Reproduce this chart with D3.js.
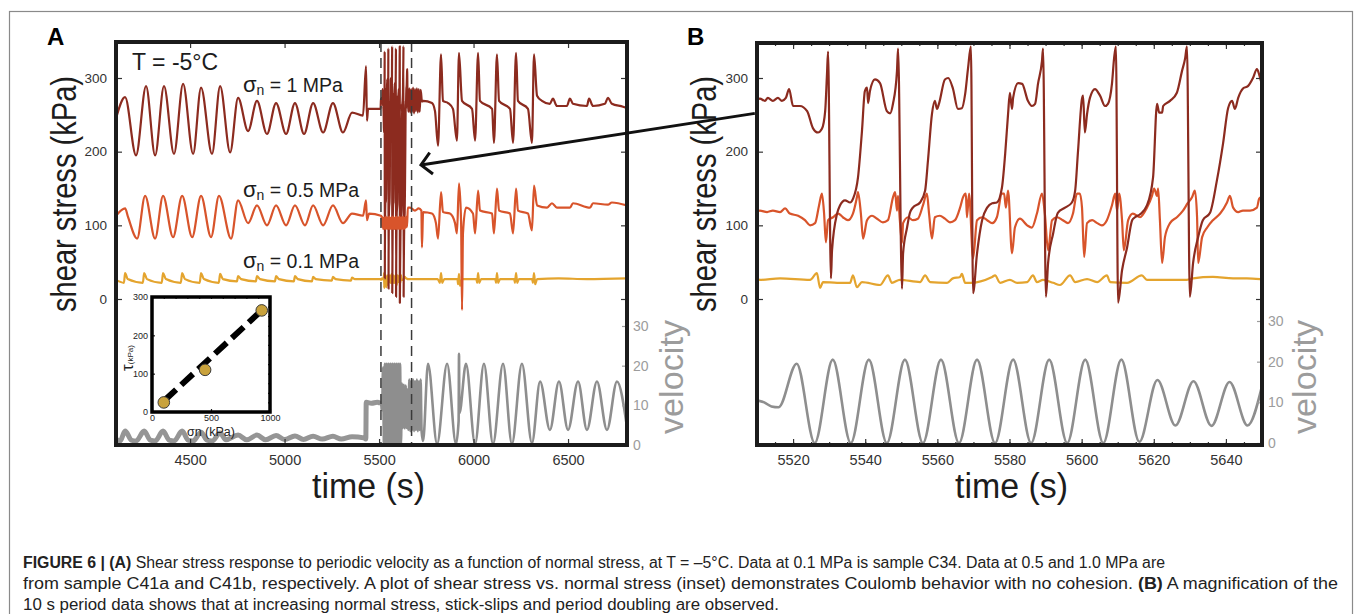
<!DOCTYPE html>
<html>
<head>
<meta charset="utf-8">
<script src="https://cdn.jsdelivr.net/npm/d3@7"></script>
<style>
  body { margin: 0; background: #fff; }
  svg { display: block; font-family: "Liberation Sans", Arial, Helvetica, sans-serif; }
</style>
</head>
<body>
<svg id="fig" width="1357" height="614"></svg>
<script>

// ticks
var timeTicksA =     [4500, 5000, 5500, 6000, 6500]
var timeTicksB =     [5520, 5540, 5560, 5580, 5600, 5620, 5640]
var stressTicks =    [0, 100, 200, 300]
var velocityTicks =  [0, 10, 20, 30]
var insetNormalTicks = [0, 500, 1000]
var insetShearTicks =  [0, 100, 200, 300]
var zoomWindow =     [5510, 5672]   // dashed lines in A, window shown in B

// inset: shear stress vs normal stress (kPa)
var insetNormal = [100, 450, 930]
var insetShear =  [25, 110, 265]
var insetFit =    [[105, 30], [905, 258]]

// ---- panel A, [time s, shear stress kPa] ----
var a1MPaPre = [[4108,245],[4156,274],[4214,195],[4267,289],[4315,195],[4362,289],[4415,197],[4463,292],
  [4516,197],[4558,287],[4616,197],[4659,289],[4712,199],[4754,273],[4807,228],[4854,269],[4907,224],
  [4955,266],[5008,224],[5055,266],[5103,224],[5151,266],[5204,226],[5256,266],[5309,226],[5357,253],
  [5415,249],[5431,316],[5436,242],[5442,258],[5508,258]]
var a1MPaPost = [[5650,285],[5655,254],[5660,286],[5665,253],[5670,285],[5675,254],[5680,287],[5685,252],
  [5690,285],[5695,255],[5700,286],[5705,253],[5710,285],[5715,254],[5720,284],[5727,268],[5733,269],
  [5780,266],[5796,255],[5812,208],[5828,332],[5838,269],[5865,266],[5891,258],[5912,215],[5923,334],
  [5939,269],[5992,258],[6008,215],[6024,334],[6034,269],[6098,258],[6108,212],[6124,332],[6135,269],
  [6193,258],[6209,212],[6225,334],[6235,269],[6288,258],[6309,212],[6320,332],[6336,276],[6362,269],
  [6404,265],[6420,272],[6441,262],[6494,262],[6510,272],[6526,265],[6600,262],[6611,272],[6632,262],
  [6695,265],[6711,273],[6732,265],[6791,261],[6812,259]]

var aHalfPre = [[4108,113],[4156,123],[4172,111],[4220,82],[4262,140],[4315,82],[4357,140],[4410,84],
  [4458,140],[4511,84],[4558,140],[4611,84],[4653,140],[4717,82],[4754,134],[4807,103],[4854,127],
  [4907,100],[4955,127],[5008,100],[5055,127],[5108,100],[5151,127],[5204,100],[5256,127],[5309,103],
  [5357,116],[5415,113],[5431,134],[5436,107],[5447,116],[5510,113]]
var aHalfBlock = [[5513,112],[5516,98],[5519,111],[5522,95],[5525,110],[5528,96],[5531,111],[5534,95],
  [5537,112],[5540,96],[5543,110],[5546,95],[5549,111],[5552,96],[5555,112],[5558,95],[5561,110],
  [5564,96],[5567,111],[5570,95],[5573,112],[5576,96],[5579,110],[5582,95],[5585,111],[5588,96],
  [5591,112],[5594,95],[5597,110],[5600,96],[5603,111],[5606,95],[5609,112],[5612,96],[5615,110],
  [5618,95],[5621,111],[5624,96],[5627,112],[5630,95],[5633,110],[5636,96],[5639,111],[5642,97],
  [5645,112],[5648,98]]
var aHalfPost = [[5652,124],[5664,124],[5690,120],[5710,123],[5724,120],[5727,70],[5733,118],[5780,116],
  [5801,103],[5812,82],[5828,145],[5838,118],[5875,116],[5902,103],[5912,89],[5923,157],[5934,106],
  [5939,-15],[5944,89],[5960,124],[5997,116],[6008,89],[6024,147],[6034,120],[6098,116],[6108,89],
  [6124,150],[6135,120],[6193,116],[6209,89],[6225,150],[6235,120],[6288,116],[6309,93],[6320,154],
  [6336,127],[6389,124],[6415,130],[6441,124],[6510,124],[6526,130],[6616,124],[6632,130],[6711,128],
  [6732,131],[6812,127]]

var aTenthPre = [[4108,26],[4150,22],[4156,35],[4170,27],[4250,22],[4257,35],[4272,27],[4350,22],[4357,35],
  [4372,27],[4451,22],[4458,35],[4473,27],[4551,22],[4558,35],[4573,27],[4652,22],[4659,34],[4674,27],
  [4748,24],[4754,31],[4770,27],[4848,24],[4854,31],[4870,27],[4949,24],[4955,31],[4970,27],[5049,24],
  [5055,31],[5070,27],[5145,24],[5151,30],[5165,27],[5250,25],[5256,30],[5270,27],[5351,25],[5357,29],
  [5372,27],[5450,27],[5508,27]]
var aTenthPost = [[5650,27],[5700,27],[5810,27],[5822,22],[5828,35],[5834,22],[5845,27],[5915,27],
  [5918,20],[5923,34],[5928,18],[5940,27],[6015,27],[6019,22],[6024,35],[6030,22],[6040,27],[6115,27],
  [6119,22],[6124,35],[6130,22],[6140,27],[6215,27],[6219,22],[6225,35],[6231,22],[6240,27],[6310,27],
  [6314,22],[6320,35],[6326,20],[6336,27],[6450,28],[6600,27],[6812,28]]

// velocity, [time s, velocity]
var aVelPre = [[4108,1.5],[4130,1],[4156,3.5],[4190,1.2],[4214,1],[4257,3.5],[4290,1.2],[4315,1],[4357,3.5],
  [4390,1.2],[4415,1],[4458,3.5],[4490,1.2],[4516,1],[4558,3.2],[4590,1.2],[4616,1],[4659,3],[4690,1.3],
  [4754,2.5],[4800,1.3],[4854,2.5],[4900,1.3],[4955,2.4],[5000,1.4],[5055,2.3],[5100,1.4],[5151,2.2],
  [5200,1.5],[5256,2.2],[5300,1.5],[5357,2.1],[5420,1.8],[5430,1.5],[5432,10.8],[5460,10.5],[5490,10.8],
  [5508,10.5]]
var aVelPost = [[5655,3.8],[5660,16.5],[5665,3.5],[5670,16],[5675,3.8],[5680,16.5],[5685,3.5],[5690,16],
  [5695,3.8],[5700,16.5],[5705,3.5],[5710,16],[5715,3.8],[5720,16.5],[5725,3.5],[5733,1],[5759,20.5],
  [5807,0.3],[5860,20.5],[5907,0.3],[5921,6],[5923,23],[5925,8],[5960,20.5],[6008,0.3],[6055,20.5],
  [6103,0.3],[6156,20.5],[6203,0.3],[6256,20.5],[6309,0.5],[6352,16],[6404,3.8],[6452,16],[6500,3.8],
  [6553,16],[6600,3.8],[6653,16],[6706,3.8],[6759,16],[6812,4.5]]

// ---- panel B (5510-5650 s) ----
var b1MPa = [[5510,270],[5510.8,272],[5512.2,269],[5513,273],[5514.4,269],[5515.8,273],[5516.9,269],[5518,273],
  [5518.9,285],[5520,262],[5521.9,262],[5523.9,255],[5525.5,232],[5526.9,226],[5528,231],[5528.9,255],
  [5529.4,305],[5529.7,336],[5530.5,28],[5530.8,66],[5532.2,116],[5533,127],[5534.4,134],[5535.8,131],
  [5536.6,136],[5538,165],[5539.1,228],[5539.9,282],[5540.5,287],[5540.8,266],[5541.3,282],[5542.7,298],
  [5544.1,293],[5546,255],[5546.9,252],[5547.7,265],[5548.8,309],[5549.1,340],[5550.2,14],[5550.5,62],
  [5551.6,97],[5552.4,117],[5553.2,124],[5555.2,131],[5556.6,147],[5557.4,188],[5558.5,251],[5559.3,269],
  [5559.9,258],[5560.5,266],[5562.1,298],[5563,300],[5564.3,286],[5565.7,258],[5566.8,259],[5567.7,278],
  [5568.5,313],[5569.3,343],[5569.9,8],[5571,62],[5572.4,107],[5573.8,124],[5575.2,130],[5576.5,131],
  [5577.9,151],[5578.8,197],[5579.6,251],[5580.1,280],[5580.7,258],[5581,273],[5582.4,293],[5583.5,292],
  [5585.1,269],[5586.2,262],[5587.1,265],[5587.9,292],[5589,323],[5589.3,340],[5590.1,3],[5590.7,49],
  [5592.1,89],[5593.4,117],[5595.4,124],[5597.3,131],[5598.2,147],[5599,201],[5600.1,272],[5600.4,276],
  [5600.9,226],[5601.5,251],[5602.3,273],[5603.7,285],[5605.1,276],[5606.5,262],[5607.3,265],[5608.4,292],
  [5609,327],[5609.5,343],[5610.1,-5],[5611.2,39],[5612.6,70],[5614,107],[5614.8,111],[5616.2,115],
  [5618.1,127],[5619.8,165],[5620.9,265],[5621.5,253],[5622.3,253],[5622.6,262],[5624.5,269],[5626.4,280],
  [5627.8,309],[5628.7,327],[5629.2,343],[5630,3],[5630.9,49],[5632.3,84],[5633.6,107],[5635.6,117],
  [5637.5,161],[5639.2,211],[5640.6,259],[5641.7,269],[5642.5,258],[5643.4,273],[5644.8,286],[5646.1,289],
  [5647.5,300],[5648.6,312],[5649.2,305],[5649.7,296]]

var bHalf = [[5510,119],[5510.8,120],[5512.8,118],[5514.4,120],[5516.4,118],[5517.8,123],[5519.1,116],
  [5521.4,113],[5523.3,107],[5524.7,100],[5526.1,103],[5527.2,127],[5528,143],[5528.6,116],[5529.1,77],
  [5529.7,107],[5531.1,111],[5532.5,116],[5533.8,111],[5535.2,107],[5536.6,116],[5537.7,138],[5538,145],
  [5538.8,116],[5539.4,82],[5540.5,107],[5541.9,113],[5543.3,109],[5544.9,104],[5546.3,107],[5547.7,138],
  [5548.3,145],[5548.8,120],[5549.1,140],[5549.6,107],[5550.2,76],[5550.5,103],[5551.9,111],[5553.2,107],
  [5554.6,109],[5556,127],[5557.1,143],[5557.7,116],[5558.5,82],[5559.3,111],[5560.7,113],[5562.1,109],
  [5563.5,104],[5564.9,107],[5566.3,124],[5567.1,138],[5567.9,143],[5568.2,111],[5568.8,143],[5569.9,55],
  [5571,107],[5572.4,111],[5573.8,107],[5575.2,103],[5576.5,111],[5577.9,143],[5578.5,143],[5579,124],
  [5579.6,147],[5580.7,62],[5581.5,97],[5582.9,109],[5584.9,100],[5586.2,97],[5587.6,116],[5589,143],
  [5589.8,116],[5590.7,66],[5591.8,107],[5593.2,111],[5594.8,107],[5596.2,103],[5597.6,116],[5598.7,143],
  [5599.5,143],[5600.1,124],[5600.7,57],[5601.5,103],[5602.9,107],[5604.3,103],[5605.6,100],[5607,107],
  [5608.4,127],[5609.3,143],[5609.8,120],[5610.4,143],[5611.2,107],[5611.7,66],[5612.9,107],[5614.2,116],
  [5616.2,111],[5618.1,124],[5619.5,140],[5620.1,150],[5620.9,140],[5621.2,150],[5621.7,107],[5622.3,49],
  [5623.1,84],[5624.5,103],[5626.4,111],[5628.1,120],[5629.4,130],[5630.6,138],[5631.4,147],[5632,111],
  [5632.3,49],[5633.4,84],[5634.8,97],[5636.4,107],[5638.4,116],[5640.3,131],[5641.1,140],[5642,124],
  [5643.4,118],[5644.7,120],[5646.7,120],[5648.6,124],[5649.2,136],[5649.7,138]]

var bTenth = [[5510,27],[5510.8,26],[5516.4,28],[5524.7,26],[5526.6,35],[5527.5,15],[5528.3,23],[5532.2,22],
  [5535.8,22],[5536.6,32],[5537.7,16],[5539.1,23],[5544.1,19],[5546.3,32],[5547.4,22],[5549.6,26],
  [5555.2,23],[5556.6,32],[5558,23],[5562.7,22],[5564.3,28],[5566.3,30],[5566.8,34],[5567.7,22],
  [5569.1,22],[5575.2,30],[5576,32],[5577.4,22],[5580.1,26],[5582.1,22],[5584.9,23],[5586.5,32],
  [5587.6,23],[5589.3,26],[5592.1,22],[5594,19],[5596.8,32],[5598.2,23],[5601.5,27],[5604.3,23],
  [5607,32],[5607.9,23],[5612.6,22],[5616.7,32],[5618.1,26],[5623.7,26],[5629.2,26],[5630.9,28],
  [5636.4,30],[5642,28],[5645.8,28],[5649.5,27]]

var bVel = [[5510,10.5],[5512,10],[5514,9],[5516,8.8],[5521,19.5],[5526,0],[5531,20.5],[5536,0],[5541,20.5],
  [5546,0],[5551,20.5],[5556,0],[5561,20.5],[5566,0],[5571,20.5],[5576,0],[5581,20.5],[5586,0],[5591,20.5],
  [5596,0],[5601,20.5],[5606,0],[5611,20.5],[5616,0.3],[5621,15.5],[5626,4.3],[5631,15.2],[5636,4.2],
  [5641,15],[5646,4.3],[5650,14]]

// panel A shows the B window inside its dense block
var a1MPa =   a1MPaPre.concat(b1MPa, a1MPaPost)
var aHalf =   aHalfPre.concat(aHalfBlock, aHalfPost)
var aTenth =  aTenthPre.concat(bTenth, aTenthPost)
var aVelRest = bVel.concat(aVelPost)

var normalLabels = [
  { main: '1 MPa',   t: 4780, s: 281 },
  { main: '0.5 MPa', t: 4780, s: 138 },
  { main: '0.1 MPa', t: 4780, s: 42 }
]

var captionLines = [
  [['FIGURE 6 | (A)', true], [' Shear stress response to periodic velocity as a function of normal stress, at T = \u20135\u00b0C. Data at 0.1 MPa is sample C34. Data at 0.5 and 1.0 MPa are', false]],
  [['from sample C41a and C41b, respectively. A plot of shear stress vs. normal stress (inset) demonstrates Coulomb behavior with no cohesion. ', false], ['(B)', true], [' A magnification of the', false]],
  [['10 s period data shows that at increasing normal stress, stick-slips and period doubling are observed.', false]]
]

var colorHigh =    '#8c2b1f'
var colorMid =     '#d8542b'
var colorLow =     '#e4a42e'
var colorVel =     '#8e8e8e'
var colorVelText = '#9c9c9c'
var colorInk =     '#1c1c1c'

var svg = d3.select('#fig')

var xA = d3.scaleLinear().domain([4108, 6812]).range([116, 627])
var xB = d3.scaleLinear().domain([5510, 5650]).range([757, 1262])
var yStress = d3.scaleLinear().domain([0, 300]).range([299, 78])
var yVelA = d3.scaleLinear().domain([0, 30]).range([445, 326])
var yVelB = d3.scaleLinear().domain([0, 30]).range([443, 321])

var panelA = { x: xA, yVel: yVelA, box: [116, 42, 627, 445], id: 'clipA' }
var panelB = { x: xB, yVel: yVelB, box: [757, 43, 1262, 445], id: 'clipB' }

// outer frame
svg.append('rect')
    .attr('x', 9.5).attr('y', 11.5).attr('width', 1343).attr('height', 660)
    .attr('fill', 'none').attr('stroke', '#8a8a8a').attr('stroke-width', 1.2)

function addClip(p) {
    svg.append('clipPath').attr('id', p.id).append('rect')
        .attr('x', p.box[0]).attr('y', p.box[1])
        .attr('width', p.box[2] - p.box[0]).attr('height', p.box[3] - p.box[1])
}

function drawLine(p, data, yScale, color, width) {
    var line = d3.line()
        .x(d => p.x(d[0]))
        .y(d => yScale(d[1]))
        .curve(d3.curveMonotoneX)
    svg.append('path')
        .datum(data)
        .attr('clip-path', 'url(#' + p.id + ')')
        .attr('d', line)
        .attr('fill', 'none')
        .attr('stroke', color)
        .attr('stroke-width', width)
        .attr('stroke-linejoin', 'round')
}

function styleAxis(g, color, size) {
    g.select('.domain').remove()
    g.selectAll('.tick line').attr('stroke', color).attr('stroke-width', 1.2)
    g.selectAll('.tick text').attr('fill', color).attr('font-size', size)
        .attr('font-family', '"Liberation Sans", Arial, sans-serif')
}

function drawAxes(p, xTicks) {
    var l = p.box[0], t = p.box[1], r = p.box[2], b = p.box[3]
    var minor = d3.range(Math.ceil(p.x.domain()[0] / 5) * 5, p.x.domain()[1], 5)
    if (p === panelB) {
        svg.append('g').attr('transform', `translate(0,${t})`)
            .call(d3.axisTop(p.x).tickValues(minor).tickFormat('').tickSize(-3))
            .call(g => styleAxis(g, '#333', 0))
        svg.append('g').attr('transform', `translate(0,${b})`)
            .call(d3.axisBottom(p.x).tickValues(minor).tickFormat('').tickSize(-3))
            .call(g => styleAxis(g, '#333', 0))
    }
    svg.append('g').attr('transform', `translate(0,${b})`)
        .call(d3.axisBottom(p.x).tickValues(xTicks).tickFormat(d3.format('d')).tickSize(-6).tickPadding(10))
        .call(g => styleAxis(g, '#333', 14.5))
    svg.append('g').attr('transform', `translate(0,${t})`)
        .call(d3.axisTop(p.x).tickValues(xTicks).tickFormat('').tickSize(-6))
        .call(g => styleAxis(g, '#333', 0))
    svg.append('g').attr('transform', `translate(${l},0)`)
        .call(d3.axisLeft(yStress).tickValues(stressTicks).tickSize(-6).tickPadding(9))
        .call(g => styleAxis(g, '#333', 13.5))
    svg.append('g').attr('transform', `translate(${r},0)`)
        .call(d3.axisRight(yStress).tickValues(stressTicks).tickFormat('').tickSize(-6))
        .call(g => styleAxis(g, '#333', 0))
    svg.append('g').attr('transform', `translate(${r},0)`)
        .call(d3.axisRight(p.yVel).tickValues(velocityTicks).tickSize(-5).tickPadding(6))
        .call(g => styleAxis(g, colorVelText, 14))
}

function drawBorder(p) {
    svg.append('rect')
        .attr('x', p.box[0]).attr('y', p.box[1])
        .attr('width', p.box[2] - p.box[0]).attr('height', p.box[3] - p.box[1])
        .attr('fill', 'none').attr('stroke', colorInk).attr('stroke-width', 4)
}

function axisTitles(p, stressX, velX) {
    var cx = (p.box[0] + p.box[2]) / 2
    svg.append('text')
        .attr('x', cx - (p === panelA ? 3 : -2)).attr('y', 498)
        .attr('text-anchor', 'middle').attr('font-size', 35).attr('fill', colorInk)
        .attr('textLength', 113).attr('lengthAdjust', 'spacingAndGlyphs')
        .text('time (s)')
    svg.append('text')
        .attr('transform', `translate(${stressX},194) rotate(-90)`)
        .attr('text-anchor', 'middle').attr('font-size', 35).attr('fill', colorInk)
        .attr('textLength', 236).attr('lengthAdjust', 'spacingAndGlyphs')
        .text('shear stress (kPa)')
    svg.append('text')
        .attr('transform', `translate(${velX},377) rotate(-90)`)
        .attr('text-anchor', 'middle').attr('font-size', 33).attr('fill', colorVelText)
        .attr('textLength', 114).attr('lengthAdjust', 'spacingAndGlyphs')
        .text('velocity')
}

// ---------- panel A ----------
addClip(panelA)
drawLine(panelA, aVelPre, yVelA, '#959595', 5)
drawLine(panelA, aVelRest, yVelA, colorVel, 2.6)
drawLine(panelA, aTenth, yStress, colorLow, 2.2)
drawLine(panelA, a1MPa, yStress, colorHigh, 2.2)
drawLine(panelA, aHalf, yStress, colorMid, 2.2)

svg.selectAll('line.window')
    .data(zoomWindow)
    .enter().append('line')
    .attr('class', 'window')
    .attr('x1', d => xA(d)).attr('x2', d => xA(d))
    .attr('y1', panelA.box[1]).attr('y2', panelA.box[3])
    .attr('stroke', '#3a3a3a').attr('stroke-width', 1.5).attr('stroke-dasharray', '10,6')

drawAxes(panelA, timeTicksA)
drawBorder(panelA)
axisTitles(panelA, 76, 683)

svg.append('text')
    .attr('x', xA(4193)).attr('y', yStress(311))
    .attr('font-size', 23).attr('fill', colorInk)
    .text('T = -5\u00b0C')

var nl = svg.selectAll('text.normal')
    .data(normalLabels)
    .enter().append('text')
    .attr('class', 'normal')
    .attr('x', d => xA(d.t)).attr('y', d => yStress(d.s))
    .attr('fill', colorInk)
nl.append('tspan').attr('font-size', 22).text('\u03c3')
nl.append('tspan').attr('font-size', 14).attr('dy', 3).text('n')
nl.append('tspan').attr('font-size', 19.5).attr('dy', -3).text(d => ' = ' + d.main)

// inset
var insetX = d3.scaleLinear().domain([0, 1000]).range([152, 270])
var insetY = d3.scaleLinear().domain([0, 300]).range([412, 297])
var inset = svg.append('g')
inset.append('rect').attr('x', 152).attr('y', 297).attr('width', 118).attr('height', 115).attr('fill', '#fff')
inset.append('g').attr('transform', 'translate(0,412)')
    .call(d3.axisBottom(insetX).tickValues(insetNormalTicks).tickFormat(d3.format('d')).tickSize(-3).tickPadding(3))
    .call(g => styleAxis(g, '#222', 9))
inset.append('g').attr('transform', 'translate(152,0)')
    .call(d3.axisLeft(insetY).tickValues(insetShearTicks).tickSize(-3).tickPadding(4))
    .call(g => styleAxis(g, '#222', 9))
inset.append('g').attr('transform', 'translate(0,297)')
    .call(d3.axisTop(insetX).tickValues(d3.range(0, 1001, 100)).tickFormat('').tickSize(-2))
    .call(g => styleAxis(g, '#222', 0))
inset.append('g').attr('transform', 'translate(270,0)')
    .call(d3.axisRight(insetY).tickValues(d3.range(0, 301, 25)).tickFormat('').tickSize(-2))
    .call(g => styleAxis(g, '#222', 0))
inset.append('line')
    .attr('x1', insetX(insetFit[0][0])).attr('y1', insetY(insetFit[0][1]))
    .attr('x2', insetX(insetFit[1][0])).attr('y2', insetY(insetFit[1][1]))
    .attr('stroke', '#000').attr('stroke-width', 6).attr('stroke-dasharray', '16,7')
inset.selectAll('circle')
    .data(insetNormal)
    .enter().append('circle')
    .attr('cx', d => insetX(d))
    .attr('cy', (d, i) => insetY(insetShear[i]))
    .attr('r', 5.8)
    .attr('fill', '#c9a23c').attr('stroke', '#3a3a3a').attr('stroke-width', 1)
inset.append('rect').attr('x', 152).attr('y', 297).attr('width', 118).attr('height', 115)
    .attr('fill', 'none').attr('stroke', '#000').attr('stroke-width', 3.5)
var tauLabel = inset.append('text')
    .attr('transform', 'translate(133,358) rotate(-90)')
    .attr('text-anchor', 'middle').attr('fill', '#222')
tauLabel.append('tspan').attr('font-size', 17).text('\u03c4')
tauLabel.append('tspan').attr('font-size', 8).text('(kPa)')
var sigLabel = inset.append('text')
    .attr('x', 211).attr('y', 436).attr('text-anchor', 'middle').attr('fill', '#222')
sigLabel.append('tspan').attr('font-size', 12.5).text('\u03c3n (kPa)')

// ---------- panel B ----------
addClip(panelB)
drawLine(panelB, bVel, yVelB, colorVel, 2.6)
drawLine(panelB, bTenth, yStress, colorLow, 2.2)
drawLine(panelB, bHalf, yStress, colorMid, 2.2)
drawLine(panelB, b1MPa, yStress, colorHigh, 2.2)
drawAxes(panelB, timeTicksB)
drawBorder(panelB)
axisTitles(panelB, 716, 1316)

// arrow from B's window to A's block
var tail = [xB(5509.4), yStress(252)]
var tip = [xA(5722), yStress(182)]
svg.append('line')
    .attr('x1', tail[0]).attr('y1', tail[1]).attr('x2', tip[0]).attr('y2', tip[1])
    .attr('stroke', '#111').attr('stroke-width', 3)
var ang = Math.atan2(tail[1] - tip[1], tail[0] - tip[0])
var arm = 15
svg.append('polyline')
    .attr('points', [
        [tip[0] + arm * Math.cos(ang - 0.8), tip[1] + arm * Math.sin(ang - 0.8)],
        tip,
        [tip[0] + arm * Math.cos(ang + 0.8), tip[1] + arm * Math.sin(ang + 0.8)]
    ].map(p => p.join(',')).join(' '))
    .attr('fill', 'none').attr('stroke', '#111').attr('stroke-width', 3)

// panel letters
svg.append('text').attr('x', 47).attr('y', 45).attr('font-size', 24).attr('font-weight', 'bold').text('A')
svg.append('text').attr('x', 687).attr('y', 45).attr('font-size', 24).attr('font-weight', 'bold').text('B')

// caption
var captionY = [568, 589, 610]
var captionWidths = [1142, 1315, null]
var ratios = []
captionLines.forEach(function(parts, i) {
    var t = svg.append('text')
        .attr('x', 23).attr('y', captionY[i])
        .attr('font-size', 16).attr('fill', '#222')
    parts.forEach(function(p) {
        t.append('tspan').attr('font-weight', p[1] ? 'bold' : 'normal').text(p[0])
    })
    var natural = t.node().getComputedTextLength()
    if (captionWidths[i]) {
        ratios.push(captionWidths[i] / natural)
        t.attr('textLength', captionWidths[i]).attr('lengthAdjust', 'spacingAndGlyphs')
    } else {
        t.attr('textLength', natural * d3.mean(ratios)).attr('lengthAdjust', 'spacingAndGlyphs')
    }
})

</script>
</body>
</html>
